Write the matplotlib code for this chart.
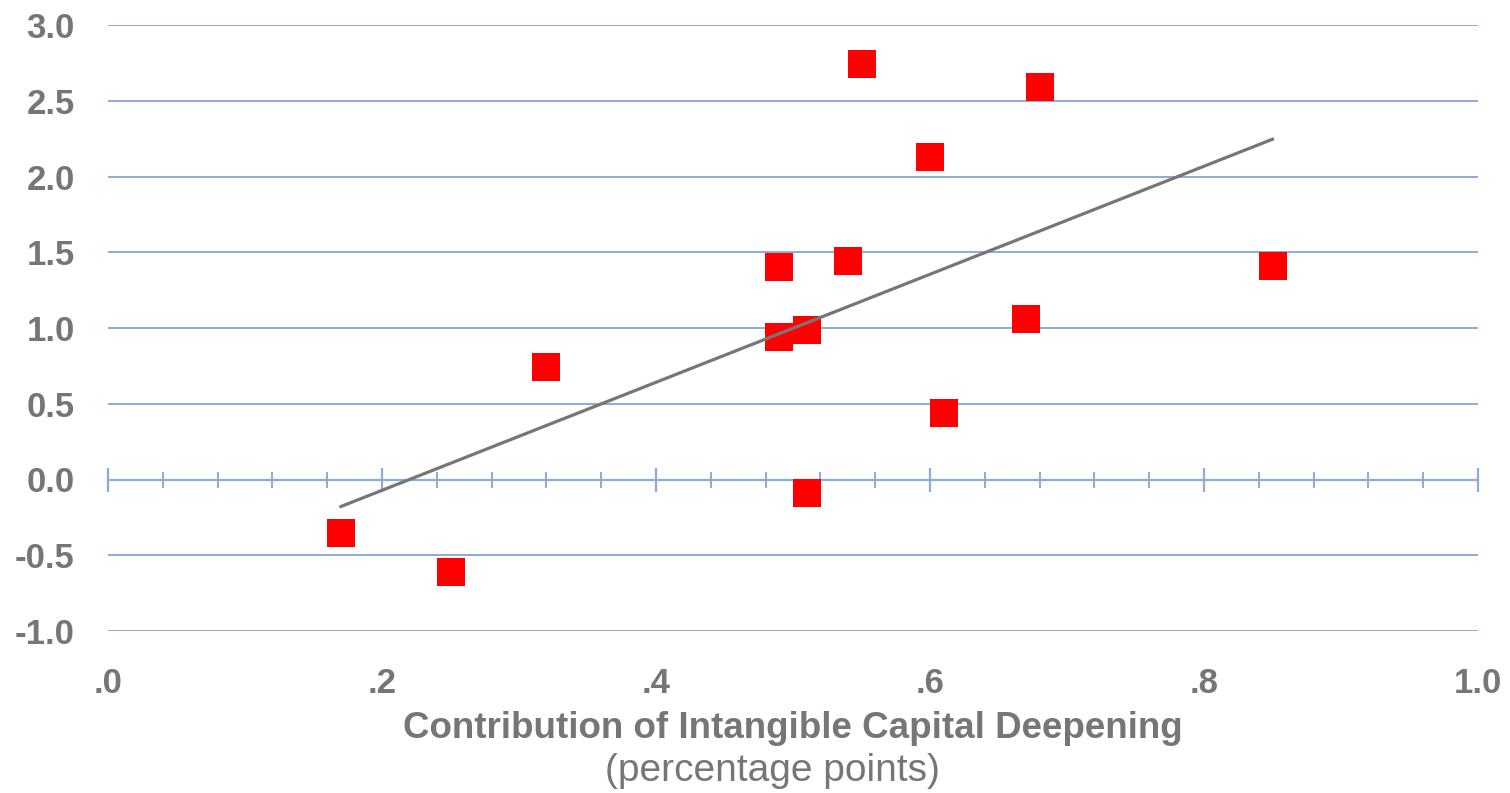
import numpy as np
import matplotlib.pyplot as plt
from matplotlib.ticker import MultipleLocator, FixedLocator

# Contribution of intangible capital deepening vs. y (percentage points)
x_vals = [0.17, 0.25, 0.32, 0.49, 0.49, 0.51, 0.51, 0.54, 0.55, 0.60, 0.61, 0.67, 0.68, 0.85]
y_vals = [-0.35, -0.61, 0.74, 1.40, 0.94, 0.99, -0.09, 1.44, 2.74, 2.13, 0.44, 1.06, 2.59, 1.41]
x_ticks = [0.0, 0.2, 0.4, 0.6, 0.8, 1.0]
x_ticklabels = [".0", ".2", ".4", ".6", ".8", "1.0"]
y_ticks = [-1.0, -0.5, 0.0, 0.5, 1.0, 1.5, 2.0, 2.5, 3.0]

grey = "#767676"
blue = "#8eaad6"

plt.rcParams['font.family'] = ['Liberation Sans', 'DejaVu Sans']

fig = plt.figure(figsize=(15.1, 7.93), dpi=100)
ax = fig.add_axes([108 / 1510, 1 - 631 / 793, 1370 / 1510, 606 / 793])

ax.set_xlim(0, 1)
ax.set_ylim(-1, 3)

# trend line (least squares)
slope, icpt = np.polyfit(x_vals, y_vals, 1)
xl = np.array([min(x_vals), max(x_vals)])
ax.plot(xl, slope * xl + icpt, color="#767676", lw=2.3, zorder=4)

ax.scatter(x_vals, y_vals, marker="s", s=410, color="#ff0000",
           linewidths=0, zorder=3)

# horizontal gridlines
ax.set_yticks(y_ticks)
ax.set_yticklabels([f"{v:.1f}" for v in y_ticks])
ax.yaxis.grid(True, color=blue, lw=1.4)
ax.set_axisbelow(True)
for s in ax.spines.values():
    s.set_visible(False)

ax.set_xticks(x_ticks)
ax.set_xticklabels(x_ticklabels)
ax.tick_params(axis="both", length=0, labelsize=25, labelcolor=grey)
ax.tick_params(axis="y", pad=24)
ax.tick_params(axis="x", pad=26)
for lab in ax.get_xticklabels() + ax.get_yticklabels():
    lab.set_fontweight("bold")

# x axis line at y=0 with crossing ticks
sec = ax.secondary_xaxis(0.25)
sec.spines["bottom"].set_color(blue)
sec.spines["bottom"].set_linewidth(1.6)
sec.xaxis.set_major_locator(FixedLocator(x_ticks))
sec.xaxis.set_minor_locator(MultipleLocator(0.04))
sec.tick_params(which="major", direction="inout", length=17, width=1.6,
                color=blue, labelbottom=False)
sec.tick_params(which="minor", direction="inout", length=12, width=1.4,
                color=blue)

fig.text(793 / 1510, 1 - 729 / 793, "Contribution of Intangible Capital Deepening",
         ha="center", va="center", fontsize=26.5, fontweight="bold", color=grey)
fig.text(772 / 1510, 1 - 771 / 793, "(percentage points)",
         ha="center", va="center", fontsize=28, color=grey)

fig.savefig("out.png", dpi=100)
